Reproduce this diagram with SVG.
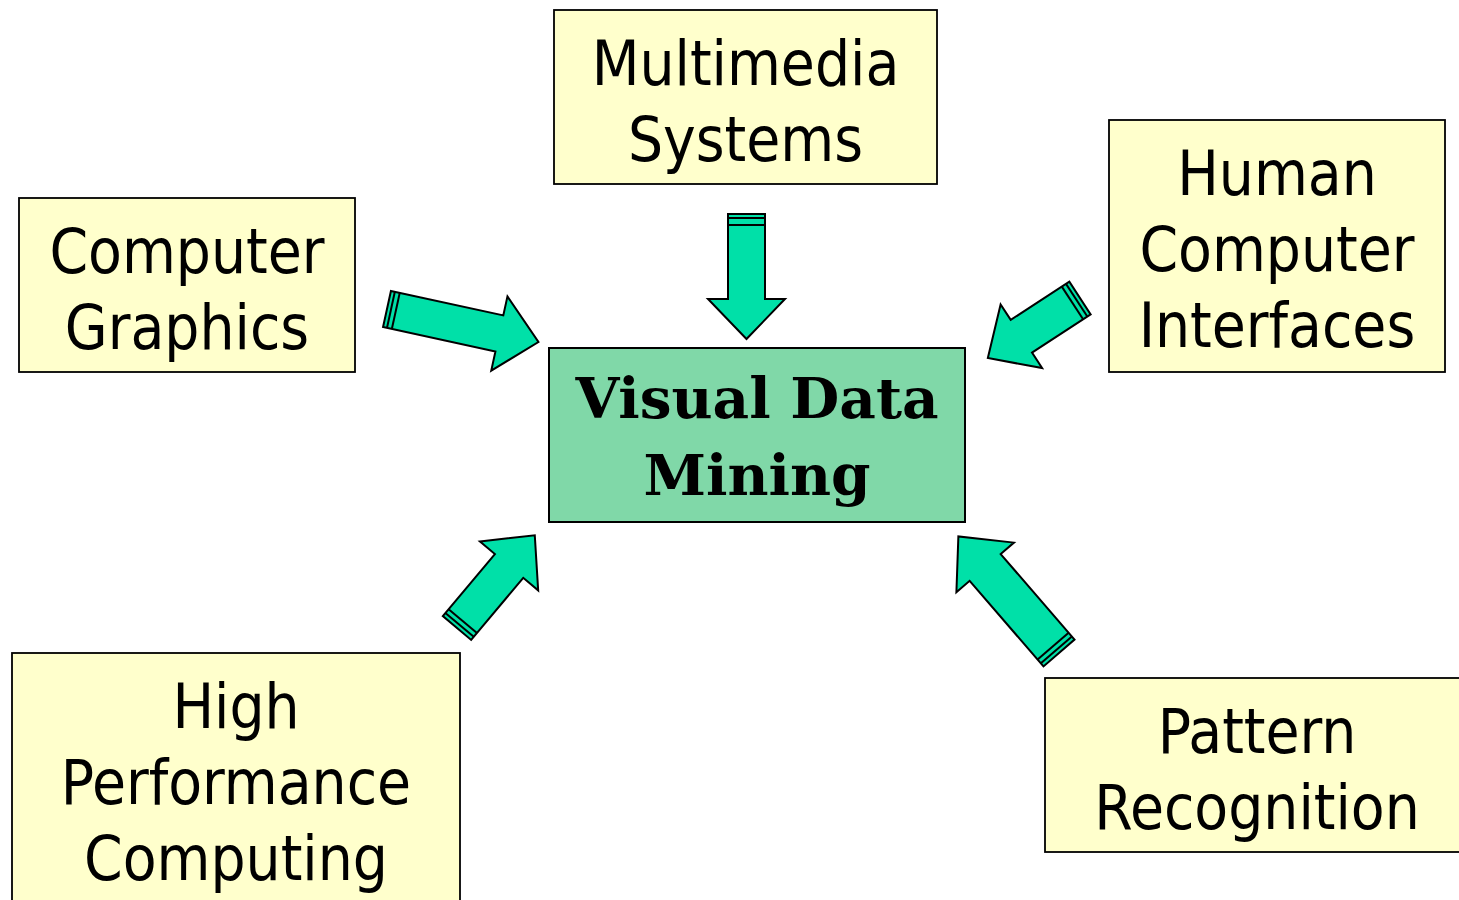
<svg xmlns="http://www.w3.org/2000/svg" width="1459" height="900" viewBox="0 0 1459 900">
<style>
.box{fill:#FFFFCC;stroke:#000;stroke-width:1.8}
.core{fill:#80D8A8;stroke:#000;stroke-width:2}
.lbl{font-family:"DejaVu Sans Condensed","DejaVu Sans",sans-serif;font-size:61.5px;fill:#000;text-anchor:middle}
.clbl{font-family:"DejaVu Serif",serif;font-weight:bold;font-size:56.5px;fill:#000;text-anchor:middle}
.arr{fill:#00E0A8;stroke:#000;stroke-width:2;stroke-linejoin:miter}
.str{stroke:#000;stroke-width:2}
</style>
<rect width="1459" height="900" fill="#fff"/>
<g id="connectors">
  <g transform="translate(746.5,214) rotate(90)">
    <path class="arr" d="M0,-18.5 H85 V-38.5 L125,0 L85,38.5 V18.5 H0 Z"/>
    <line class="str" x1="4" y1="-18.5" x2="4" y2="18.5"/><line class="str" x1="11" y1="-18.5" x2="11" y2="18.5"/>
  </g>
  <g transform="translate(387,309) rotate(12.3)">
    <path class="arr" d="M0,-18.5 H115 V-38 L155,0 L115,38 V18.5 H0 Z"/>
    <line class="str" x1="4" y1="-18.5" x2="4" y2="18.5"/><line class="str" x1="9" y1="-18.5" x2="9" y2="18.5"/>
  </g>
  <g transform="translate(1080,298) rotate(146.9)">
    <path class="arr" d="M0,-19.5 H70 V-38 L110,0 L70,38 V19.5 H0 Z"/>
    <line class="str" x1="4" y1="-19.5" x2="4" y2="19.5"/><line class="str" x1="9" y1="-19.5" x2="9" y2="19.5"/>
  </g>
  <g transform="translate(457,628) rotate(-50)">
    <path class="arr" d="M0,-18.5 H81 V-38 L121,0 L81,38 V18.5 H0 Z"/>
    <line class="str" x1="4" y1="-18.5" x2="4" y2="18.5"/><line class="str" x1="9" y1="-18.5" x2="9" y2="18.5"/>
  </g>
  <g transform="translate(1059,653) rotate(229.2)">
    <path class="arr" d="M0,-20.5 H113 V-38 L154,0 L113,38 V20.5 H0 Z"/>
    <line class="str" x1="4" y1="-20.5" x2="4" y2="20.5"/><line class="str" x1="9" y1="-20.5" x2="9" y2="20.5"/>
  </g>
</g>
<g id="multimedia">
  <rect class="box" x="554" y="10" width="383" height="174"/>
  <text class="lbl" x="745.5" y="85">Multimedia</text>
  <text class="lbl" x="745.5" y="161">Systems</text>
</g>
<g id="graphics">
  <rect class="box" x="19" y="198" width="336" height="174"/>
  <text class="lbl" x="187" y="273">Computer</text>
  <text class="lbl" x="187" y="349">Graphics</text>
</g>
<g id="hci">
  <rect class="box" x="1109" y="120" width="336" height="252"/>
  <text class="lbl" x="1277" y="195">Human</text>
  <text class="lbl" x="1277" y="271">Computer</text>
  <text class="lbl" x="1277" y="347">Interfaces</text>
</g>
<g id="vdm">
  <rect class="core" x="549" y="348" width="416" height="174"/>
  <text class="clbl" x="757" y="418">Visual Data</text>
  <text class="clbl" x="757" y="495">Mining</text>
</g>
<g id="hpc">
  <rect class="box" x="12" y="653" width="448" height="260"/>
  <text class="lbl" x="236" y="728">High</text>
  <text class="lbl" x="236" y="804">Performance</text>
  <text class="lbl" x="236" y="880">Computing</text>
</g>
<g id="pattern">
  <rect class="box" x="1045" y="678" width="430" height="174"/>
  <text class="lbl" x="1257" y="753">Pattern</text>
  <text class="lbl" x="1257" y="829">Recognition</text>
</g>
</svg>
